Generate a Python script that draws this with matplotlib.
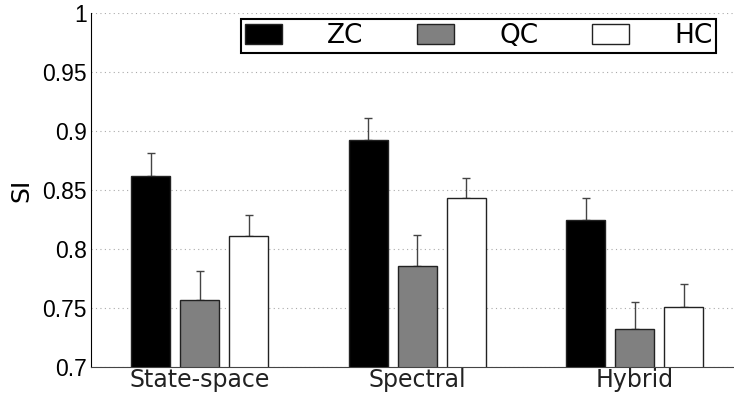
"""SI per method: grouped bars with upper error bars."""

import matplotlib
matplotlib.use("Agg")
import matplotlib.pyplot as plt
import numpy as np

GROUPS = ["State-space", "Spectral", "Hybrid"]
SERIES = ["ZC", "QC", "HC"]
ZC_MEAN = [0.862, 0.892, 0.825]
QC_MEAN = [0.757, 0.786, 0.732]
HC_MEAN = [0.811, 0.843, 0.751]
ZC_ERR = [0.019, 0.019, 0.018]
QC_ERR = [0.024, 0.026, 0.023]
HC_ERR = [0.018, 0.017, 0.019]
Y_TICKS = [0.7, 0.75, 0.8, 0.85, 0.9, 0.95, 1.0]
Y_TICK_LABELS = ["0.7", "0.75", "0.8", "0.85", "0.9", "0.95", "1"]

COLOURS = ["#000000", "#808080", "#ffffff"]

fig = plt.figure(figsize=(7.34, 4.0), dpi=100)
ax = fig.add_axes([91 / 734, 33 / 400, 1 - 91 / 734, 354 / 400])

x = np.arange(len(GROUPS))
width = 0.179
offset = 0.225
means = [ZC_MEAN, QC_MEAN, HC_MEAN]
errs = [ZC_ERR, QC_ERR, HC_ERR]
for i, (name, m, e, c) in enumerate(zip(SERIES, means, errs, COLOURS)):
    pos = x + (i - 1) * offset
    ax.bar(pos, m, width, bottom=0, color=c, edgecolor="#222222", linewidth=1.0,
           label=name, zorder=2)
    ax.errorbar(pos, m, yerr=[np.zeros(len(e)), e], fmt="none", ecolor="#444444",
                elinewidth=1.0, capsize=3, capthick=1.0, zorder=1)

ax.set_xlim(-0.5, 2.457)
ax.set_ylim(0.7, 1.0)
ax.set_yticks(Y_TICKS)
ax.set_yticklabels(Y_TICK_LABELS, family="Liberation Sans", fontsize=16.5)
ax.set_xticks(x)
ax.set_xticklabels(GROUPS, family="DejaVu Sans", fontsize=17, color="#222222")
ax.tick_params(axis="both", length=0, pad=3)
ax.tick_params(axis="x", pad=1)
ax.set_ylabel("SI", family="DejaVu Sans", fontsize=18, labelpad=6)
ax.yaxis.grid(True, linestyle=(0, (1, 3)), color="#aaaaaa", linewidth=0.8, zorder=0)
ax.set_axisbelow(True)
for side in ("top", "right"):
    ax.spines[side].set_visible(False)
ax.spines["left"].set_color("black")
ax.spines["bottom"].set_color("#444444")

leg = fig.legend(loc="upper left", ncol=3,
                 bbox_to_anchor=(241 / 734, 1 - 19 / 400),
                 prop={"family": "DejaVu Sans", "size": 19}, frameon=True,
                 fancybox=False, edgecolor="black", framealpha=1,
                 handlelength=1.4, handleheight=0.8, handletextpad=1.7,
                 columnspacing=2.05, borderpad=0.15, borderaxespad=0)
leg.get_frame().set_linewidth(1.5)

fig.savefig("out.png", dpi=100)
